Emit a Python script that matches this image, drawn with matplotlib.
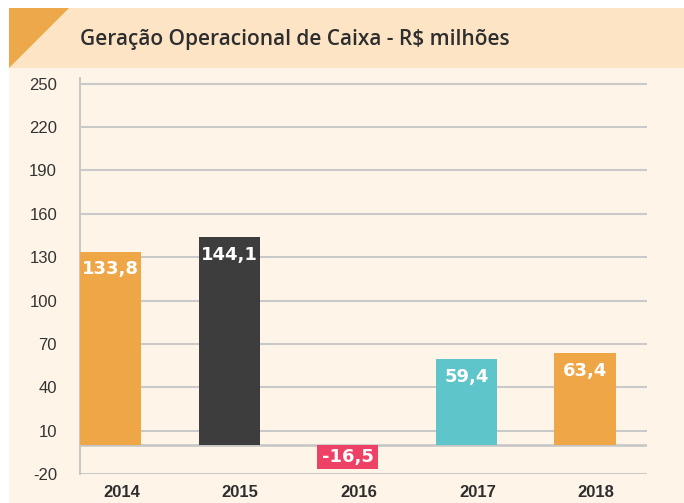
import matplotlib
matplotlib.use("Agg")
import matplotlib.pyplot as plt
from matplotlib.patches import Rectangle, Polygon

years = ["2014", "2015", "2016", "2017", "2018"]
values = [133.8, 144.1, -16.5, 59.4, 63.4]
labels = ["133,8", "144,1", "-16,5", "59,4", "63,4"]
colors = ["#EFA646", "#3D3D3D", "#EE4166", "#5EC6CB", "#EFA646"]
yticks = [-20, 10, 40, 70, 100, 130, 160, 190, 220, 250]
title = "Geração Operacional de Caixa - R$ milhões"

W, H = 684, 503
fig = plt.figure(figsize=(W / 100, H / 100), dpi=100)
fig.patch.set_facecolor("white")

def fx(x):
    return x / W

def fy(y):
    return 1 - y / H

# cream background
fig.patches.append(Rectangle((fx(9), 0), 1 - fx(9), fy(8), transform=fig.transFigure,
                             facecolor="#FEF5E8", edgecolor="none", zorder=-10))
# title band
fig.patches.append(Rectangle((fx(9), fy(68)), 1 - fx(9), fy(8) - fy(68), transform=fig.transFigure,
                             facecolor="#FCE4C5", edgecolor="none", zorder=-9))
# triangle
fig.patches.append(Polygon([(fx(9), fy(8)), (fx(69), fy(8)), (fx(9), fy(68))], closed=True,
                           transform=fig.transFigure, facecolor="#EDA849", edgecolor="none", zorder=-8))

fig.text(fx(80), fy(40), title, fontsize=15, fontweight="semibold", family=["Open Sans", "DejaVu Sans"],
         color="#2E2E2E", va="center", ha="left")

ax = fig.add_axes([fx(80), fy(474), fx(647) - fx(80), fy(78) - fy(474)])
ax.set_facecolor("none")
x = list(range(len(years)))
ax.bar(x, values, width=0.515, color=colors, zorder=3)
ax.set_xlim(-0.257, 4.523)
ax.set_ylim(-20, 254)
ax.set_yticks(yticks)
ax.set_yticklabels([str(t) for t in yticks], fontsize=12, family=["Liberation Sans", "DejaVu Sans"], color="#333333")
ax.set_xticks([xi + 0.093 for xi in x])
ax.set_xticklabels(years, fontsize=12, fontweight="bold",
                   family=["Liberation Sans", "DejaVu Sans"], color="#2E2E2E")
ax.tick_params(axis="both", length=0)
ax.tick_params(axis="y", pad=16.5)
ax.tick_params(axis="x", pad=8)
for t in yticks:
    ax.axhline(t, color="#C9C9C9", lw=1.5, zorder=1)
ax.axhline(0, color="#C4C4C4", lw=1.8, zorder=2)
for s in ["top", "right", "bottom"]:
    ax.spines[s].set_visible(False)
ax.spines["left"].set_color("#C9C9C9")
ax.spines["left"].set_linewidth(1.5)

for xi, v, lab in zip(x, values, labels):
    if v >= 0:
        y = v - 12.3
    else:
        y = v / 2
    ax.text(xi, y, lab, ha="center", va="center", color="white", fontsize=13, fontweight="bold",
            family=["DejaVu Sans"], zorder=4)

fig.savefig("out.png", dpi=100, facecolor=fig.get_facecolor())
